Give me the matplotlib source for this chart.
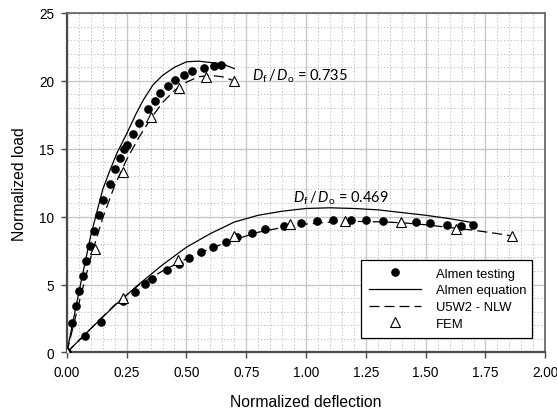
"""Normalized load-deflection curves for two diaphragm ratios."""

import matplotlib.pyplot as plt
from matplotlib.ticker import MultipleLocator

plt.rcParams["font.family"] = ["Liberation Sans", "DejaVu Sans"]
plt.rcParams["mathtext.fontset"] = "custom"
plt.rcParams["mathtext.rm"] = "Lato"
plt.rcParams["mathtext.it"] = "Lato:italic"

# Df/Do = 0.735 ---------------------------------------------------------
test_x_735 = [0.0, 0.022, 0.039, 0.051, 0.067, 0.082, 0.097, 0.113, 0.134,
              0.153, 0.181, 0.202, 0.224, 0.238, 0.252, 0.278, 0.302, 0.338,
              0.367, 0.39, 0.424, 0.453, 0.488, 0.524, 0.572, 0.614, 0.646]
test_y_735 = [0.0, 2.2, 3.4, 4.5, 5.65, 6.7, 7.86, 8.94, 10.14,
              11.25, 12.4, 13.5, 14.35, 14.98, 15.3, 16.1, 16.9, 17.9,
              18.5, 19.1, 19.6, 20.05, 20.46, 20.75, 20.95, 21.1, 21.15]

eq_x_735 = [0.0, 0.05, 0.10, 0.15, 0.18, 0.21, 0.25, 0.29, 0.32, 0.36,
            0.40, 0.45, 0.50, 0.55, 0.60, 0.65, 0.70]
eq_y_735 = [0.0, 4.4, 8.6, 12.0, 13.4, 14.7, 16.1, 17.6, 18.6, 19.7,
            20.4, 21.0, 21.4, 21.45, 21.35, 21.25, 20.9]

nlw_x_735 = [0.0, 0.05, 0.10, 0.15, 0.20, 0.25, 0.30, 0.35, 0.40, 0.45,
             0.50, 0.55, 0.60, 0.65, 0.70]
nlw_y_735 = [0.0, 3.6, 7.0, 9.9, 12.3, 14.2, 15.8, 17.2, 18.4, 19.3,
             19.9, 20.3, 20.4, 20.3, 20.0]

fem_x_735 = [0.0, 0.117, 0.233, 0.350, 0.467, 0.583, 0.700]
fem_y_735 = [0.0, 7.6, 13.3, 17.3, 19.5, 20.3, 20.0]

# Df/Do = 0.469 ---------------------------------------------------------
test_x_469 = [0.075, 0.142, 0.233, 0.283, 0.326, 0.354, 0.418, 0.468, 0.512,
              0.56, 0.61, 0.666, 0.713, 0.773, 0.829, 0.909, 0.978, 1.044,
              1.112, 1.186, 1.25, 1.322, 1.458, 1.52, 1.587, 1.649, 1.698]
test_y_469 = [1.18, 2.23, 3.75, 4.47, 5.03, 5.4, 6.06, 6.53, 6.98,
              7.37, 7.77, 8.16, 8.5, 8.8, 9.06, 9.33, 9.55, 9.7,
              9.73, 9.75, 9.77, 9.68, 9.58, 9.5, 9.38, 9.33, 9.42]

eq_x_469 = [0.0, 0.1, 0.2, 0.3, 0.4, 0.5, 0.6, 0.7, 0.8, 0.9, 1.0, 1.1,
            1.2, 1.3, 1.4, 1.5, 1.6, 1.7]
eq_y_469 = [0.0, 1.75, 3.45, 5.0, 6.45, 7.75, 8.75, 9.6, 10.1, 10.4, 10.6,
            10.65, 10.6, 10.5, 10.3, 10.1, 9.85, 9.55]

nlw_x_469 = [0.0, 0.1, 0.2, 0.3, 0.4, 0.5, 0.6, 0.7, 0.8, 0.9, 1.0, 1.1,
             1.2, 1.3, 1.4, 1.5, 1.6, 1.7, 1.8, 1.87]
nlw_y_469 = [0.0, 1.75, 3.5, 4.95, 6.0, 6.9, 7.65, 8.3, 8.85, 9.2, 9.45,
             9.6, 9.65, 9.62, 9.55, 9.4, 9.2, 9.0, 8.75, 8.55]

fem_x_469 = [0.0, 0.233, 0.465, 0.700, 0.932, 1.163, 1.396, 1.628, 1.862]
fem_y_469 = [0.0, 4.0, 6.8, 8.6, 9.45, 9.7, 9.58, 9.1, 8.6]

SERIES = [
    (test_x_735, test_y_735, eq_x_735, eq_y_735, nlw_x_735, nlw_y_735,
     fem_x_735, fem_y_735),
    (test_x_469, test_y_469, eq_x_469, eq_y_469, nlw_x_469, nlw_y_469,
     fem_x_469, fem_y_469),
]

fig, ax = plt.subplots(figsize=(5.57, 4.10), dpi=100)
fig.subplots_adjust(left=0.12, right=0.979, top=0.966, bottom=0.138)

for i, (tx, ty, ex, ey, nx, ny, fx, fy) in enumerate(SERIES):
    first = i == 0
    ax.plot(tx, ty, "o", color="black", markersize=5.2, zorder=4,
            label="Almen testing" if first else None)
    ax.plot(ex, ey, "-", color="black", linewidth=0.9, zorder=3,
            label="Almen equation" if first else None)
    ax.plot(nx, ny, "--", color="black", linewidth=0.9, dashes=(8, 4),
            zorder=3, label="U5W2 - NLW" if first else None)
    ax.plot(fx, fy, "^", markerfacecolor="white", markeredgecolor="black",
            markeredgewidth=0.8, markersize=7, zorder=5,
            label="FEM" if first else None)

ax.set_xlim(0, 2.0)
ax.set_ylim(0, 25)
ax.xaxis.set_major_locator(MultipleLocator(0.25))
ax.xaxis.set_minor_locator(MultipleLocator(0.05))
ax.yaxis.set_major_locator(MultipleLocator(5))
ax.yaxis.set_minor_locator(MultipleLocator(1))
ax.set_xticklabels([f"{v:.2f}" for v in ax.get_xticks()])

ax.grid(which="major", color="#c8c8c8", linewidth=1.0, zorder=0)
ax.grid(which="minor", color="#b4b4b4", linewidth=0.6,
        linestyle=(0, (1.5, 2.5)), zorder=0)
ax.set_axisbelow(True)

for side in ("left", "bottom"):
    ax.spines[side].set_linewidth(1.6)
    ax.spines[side].set_color("#4a4a4a")
for side in ("top", "right"):
    ax.spines[side].set_linewidth(1.3)
    ax.spines[side].set_color("#6a6a6a")

ax.tick_params(which="major", direction="out", length=4, width=1.0,
               labelsize=9.8, color="#4a4a4a", pad=5)
ax.tick_params(which="minor", length=0)

ax.set_xlabel("Normalized deflection", fontsize=11.3, labelpad=11)
ax.set_ylabel("Normalized load", fontsize=11.3, labelpad=9)

ax.text(0.775, 20.4, r"$D_\mathrm{f}\,/\,D_\mathrm{o}$ = 0.735",
        family="Lato", fontsize=10.5, va="center", ha="left")
ax.text(0.946, 11.4, r"$D_\mathrm{f}\,/\,D_\mathrm{o}$ = 0.469",
        family="Lato", fontsize=10.5, va="center", ha="left")

leg = ax.legend(loc="lower left", bbox_to_anchor=(0.602, 0.024, 0.383, 0.246),
                mode="expand", fontsize=9.4, frameon=True, fancybox=False,
                edgecolor="black", handlelength=4.0, borderpad=0.6,
                labelspacing=0.35, handletextpad=1.1)
leg.get_frame().set_linewidth(0.9)
leg.get_frame().set_alpha(1)

fig.savefig("out.png", dpi=100)
